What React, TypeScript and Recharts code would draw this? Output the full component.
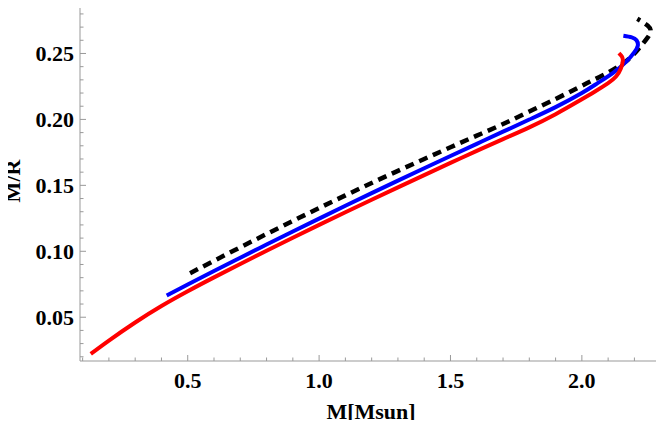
import { LineChart, Line, XAxis, YAxis } from "recharts";

// mass (Msun) and compactness M/R for the three curves
const redM = [0.131, 0.2, 0.3, 0.4, 0.5, 0.6, 0.7, 0.8, 0.9, 1.0, 1.1, 1.2, 1.3, 1.4, 1.5, 1.6, 1.7, 1.8, 1.9, 1.98, 2.05, 2.1, 2.13, 2.148, 2.156, 2.152, 2.141];
const redC = [0.0222, 0.0323, 0.046, 0.0585, 0.0697, 0.0802, 0.0904, 0.1004, 0.1103, 0.12, 0.1296, 0.1391, 0.1485, 0.1578, 0.167, 0.1761, 0.1851, 0.194, 0.204, 0.213, 0.2212, 0.2275, 0.2325, 0.2385, 0.2445, 0.2478, 0.2503];

const blueM = [0.42, 0.5, 0.6, 0.7, 0.8, 0.9, 1.0, 1.1, 1.2, 1.3, 1.4, 1.5, 1.6, 1.7, 1.8, 1.9, 2.0, 2.06, 2.12, 2.17, 2.2, 2.213, 2.208, 2.19, 2.158];
const blueC = [0.0665, 0.0748, 0.085, 0.0951, 0.1051, 0.115, 0.1248, 0.1345, 0.1441, 0.1536, 0.163, 0.1723, 0.1815, 0.1907, 0.1999, 0.2093, 0.22, 0.2275, 0.2355, 0.244, 0.251, 0.256, 0.26, 0.2622, 0.2634];

const blackM = [0.509, 0.6, 0.7, 0.8, 0.9, 1.0, 1.1, 1.2, 1.3, 1.4, 1.5, 1.6, 1.7, 1.8, 1.9, 1.98, 2.03, 2.08, 2.13, 2.18, 2.22, 2.25, 2.262, 2.25, 2.211];
const blackC = [0.0834, 0.0928, 0.103, 0.1131, 0.123, 0.1328, 0.1424, 0.1518, 0.161, 0.17, 0.1789, 0.1877, 0.1965, 0.206, 0.2155, 0.2235, 0.2285, 0.2335, 0.239, 0.246, 0.2545, 0.262, 0.267, 0.2712, 0.2763];

const xTicks = [0.1, 0.2, 0.3, 0.4, 0.5, 0.6, 0.7, 0.8, 0.9, 1.0, 1.1, 1.2, 1.3, 1.4, 1.5, 1.6, 1.7, 1.8, 1.9, 2.0, 2.1, 2.2, 2.3];
const xMajor = ["0.5", "1.0", "1.5", "2.0"];
const yTicks = [0.02, 0.03, 0.04, 0.05, 0.06, 0.07, 0.08, 0.09, 0.1, 0.11, 0.12, 0.13, 0.14, 0.15, 0.16, 0.17, 0.18, 0.19, 0.2, 0.21, 0.22, 0.23, 0.24, 0.25, 0.26, 0.27, 0.28];
const yMajor = ["0.05", "0.10", "0.15", "0.20", "0.25"];

const xDomain = [0.09, 2.305];
const yDomain = [0.0168, 0.2898];

const zip = (ms: number[], cs: number[]) => ms.map((m, i) => ({ m, c: cs[i] }));
const redData = zip(redM, redC);
const blueData = zip(blueM, blueC);
const blackData = zip(blackM, blackC);

const FRAME = "#999999";
const FONT = "Liberation Serif";

function FrameTick(props: any) {
  const { x, y, payload, side } = props;
  const v = Number(payload.value);
  const isX = side === "bottom" || side === "top";
  const label = isX ? v.toFixed(1) : v.toFixed(2);
  const major = isX ? xMajor.includes(label) : yMajor.includes(label);
  const len = major ? 6 : 3.5;
  let line;
  if (side === "bottom") line = <line x1={x} x2={x} y1={y} y2={y - len} />;
  else if (side === "top") line = <line x1={x} x2={x} y1={y} y2={y + len} />;
  else if (side === "left") line = <line x1={x} x2={x + len} y1={y} y2={y} />;
  else line = <line x1={x} x2={x - len} y1={y} y2={y} />;
  return (
    <g>
      <g stroke={FRAME} strokeWidth={1}>{line}</g>
      {major && side === "bottom" && (
        <text x={x} y={y + 27} textAnchor="middle" fontSize={22} fontWeight={700} fontFamily={FONT} fill="#000">
          {label}
        </text>
      )}
      {major && side === "left" && (
        <text x={x - 6} y={y + 7.5} textAnchor="end" fontSize={22} fontWeight={700} fontFamily={FONT} fill="#000">
          {label}
        </text>
      )}
    </g>
  );
}

function XTitle(props: any) {
  const vb = props.viewBox;
  return (
    <text x={vb.x + vb.width / 2} y={vb.y + 58} textAnchor="middle" fontSize={22} fontWeight={700} fontFamily={FONT} fill="#000">
      M[Msun]
    </text>
  );
}

function YTitle(props: any) {
  const vb = props.viewBox;
  const cy = vb.y + vb.height / 2;
  return (
    <text x={0} y={0} transform={`translate(20, ${cy}) rotate(-90)`} textAnchor="middle" fontSize={22} fontWeight={700} fontFamily={FONT} fill="#000">
      M/R
    </text>
  );
}

export default function App() {
  return (
    <div style={{ margin: -8, width: 664, height: 428, background: "#fff" }}>
      <LineChart width={664} height={428} margin={{ top: 1, right: 2, bottom: 0, left: 0 }}>
        <XAxis
          xAxisId="b"
          type="number"
          dataKey="m"
          domain={xDomain}
          allowDataOverflow
          ticks={xTicks}
          interval={0}
          height={67}
          tickSize={0}
          tickMargin={0}
          tickLine={false}
          axisLine={{ stroke: FRAME }}
          tick={(p: any) => <FrameTick {...p} side="bottom" />}
          label={(p: any) => <XTitle {...p} />}
        />
        <XAxis
          xAxisId="t"
          orientation="top"
          type="number"
          dataKey="m"
          domain={xDomain}
          allowDataOverflow
          ticks={xTicks}
          interval={0}
          height={0}
          tickSize={0}
          tickMargin={0}
          tickLine={false}
          axisLine={{ stroke: FRAME }}
          tick={(p: any) => <FrameTick {...p} side="top" />}
        />
        <YAxis
          yAxisId="l"
          type="number"
          dataKey="c"
          domain={yDomain}
          allowDataOverflow
          ticks={yTicks}
          interval={0}
          width={80}
          tickSize={0}
          tickMargin={0}
          tickLine={false}
          axisLine={{ stroke: FRAME }}
          tick={(p: any) => <FrameTick {...p} side="left" />}
          label={(p: any) => <YTitle {...p} />}
        />
        <YAxis
          yAxisId="r"
          orientation="right"
          type="number"
          dataKey="c"
          domain={yDomain}
          allowDataOverflow
          ticks={yTicks}
          interval={0}
          width={0}
          tickSize={0}
          tickMargin={0}
          tickLine={false}
          axisLine={{ stroke: FRAME }}
          tick={(p: any) => <FrameTick {...p} side="right" />}
        />
        <Line xAxisId="b" yAxisId="l" data={blackData} dataKey="c" type="natural" stroke="#000000" strokeWidth={4.5} strokeDasharray="9 6" dot={false} isAnimationActive={false} />
        <Line xAxisId="b" yAxisId="l" data={blueData} dataKey="c" type="natural" stroke="#0000ff" strokeWidth={4} dot={false} isAnimationActive={false} />
        <Line xAxisId="b" yAxisId="l" data={redData} dataKey="c" type="natural" stroke="#ff0000" strokeWidth={4} dot={false} isAnimationActive={false} />
      </LineChart>
    </div>
  );
}
